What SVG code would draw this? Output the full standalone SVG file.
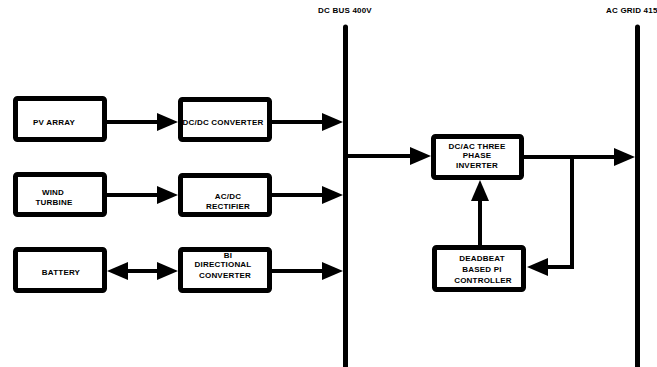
<svg xmlns="http://www.w3.org/2000/svg" width="657" height="367" viewBox="0 0 657 367">
<style>
.box{fill:#fff;stroke:#000;stroke-width:5}
.bus{stroke:#000;stroke-width:5;stroke-linecap:round;fill:none}
.con{stroke:#000;stroke-width:4;fill:none}
text{font-family:"Liberation Sans",Arial,sans-serif;font-weight:bold;font-size:8px;fill:#000;text-anchor:middle;letter-spacing:0.2px}
</style>
<defs>
<marker id="ah" markerUnits="userSpaceOnUse" markerWidth="22" markerHeight="18" refX="11" refY="9" orient="auto-start-reverse" viewBox="0 0 21 18">
<path d="M0,0 L21,9 L0,18 z" fill="#000"/>
</marker>
</defs>
<g id="labels">
<text x="345" y="13">DC BUS 400V</text>
<text x="606" y="13" style="text-anchor:start">AC GRID 415</text>
</g>
<g id="buses">
<line class="bus" x1="345.5" y1="27" x2="345.5" y2="367"/>
<line class="bus" x1="637.5" y1="27" x2="637.5" y2="367"/>
</g>
<g id="connectors">
<line class="con" x1="107" y1="122" x2="168" y2="122" marker-end="url(#ah)"/>
<line class="con" x1="272" y1="122" x2="333" y2="122" marker-end="url(#ah)"/>
<line class="con" x1="107" y1="195" x2="168" y2="195" marker-end="url(#ah)"/>
<line class="con" x1="272" y1="195" x2="333" y2="195" marker-end="url(#ah)"/>
<line class="con" x1="117" y1="271" x2="168" y2="271" marker-start="url(#ah)" marker-end="url(#ah)"/>
<line class="con" x1="272" y1="271" x2="333" y2="271" marker-end="url(#ah)"/>
<line class="con" x1="348" y1="156" x2="421" y2="156" marker-end="url(#ah)"/>
<line class="con" x1="524" y1="157" x2="625" y2="157" marker-end="url(#ah)"/>
<polyline class="con" points="572,157 572,267 537,267" marker-end="url(#ah)"/>
<line class="con" x1="480" y1="245" x2="480" y2="190" marker-end="url(#ah)"/>
</g>
<g id="pv">
<rect class="box" x="15.5" y="98.5" width="89" height="41" rx="2"/>
<text x="54" y="125">PV ARRAY</text>
</g>
<g id="dcdc">
<rect class="box" x="180.5" y="99.5" width="89" height="40" rx="2"/>
<text x="223" y="125">DC/DC CONVERTER</text>
</g>
<g id="wind">
<rect class="box" x="15.5" y="174.5" width="89" height="40" rx="2"/>
<text x="53" y="195">WIND</text>
<text x="54" y="205">TURBINE</text>
</g>
<g id="acdc">
<rect class="box" x="180.5" y="175.5" width="89" height="39" rx="2"/>
<text x="228" y="199">AC/DC</text>
<text x="228" y="209">RECTIFIER</text>
</g>
<g id="battery">
<rect class="box" x="15.5" y="249.5" width="89" height="41" rx="2"/>
<text x="61" y="275">BATTERY</text>
</g>
<g id="bidir">
<rect class="box" x="180.5" y="249.5" width="89" height="41" rx="2"/>
<text x="228" y="258">BI</text>
<text x="223" y="267">DIRECTIONAL</text>
<text x="225" y="278">CONVERTER</text>
</g>
<g id="inverter">
<rect class="box" x="433.5" y="136.5" width="88" height="41" rx="2"/>
<text x="477" y="149">DC/AC THREE</text>
<text x="477" y="158">PHASE</text>
<text x="477" y="168">INVERTER</text>
</g>
<g id="controller">
<rect class="box" x="434.5" y="247.5" width="89" height="42" rx="2"/>
<text x="482" y="261">DEADBEAT</text>
<text x="482" y="272">BASED PI</text>
<text x="483" y="283">CONTROLLER</text>
</g>
</svg>
